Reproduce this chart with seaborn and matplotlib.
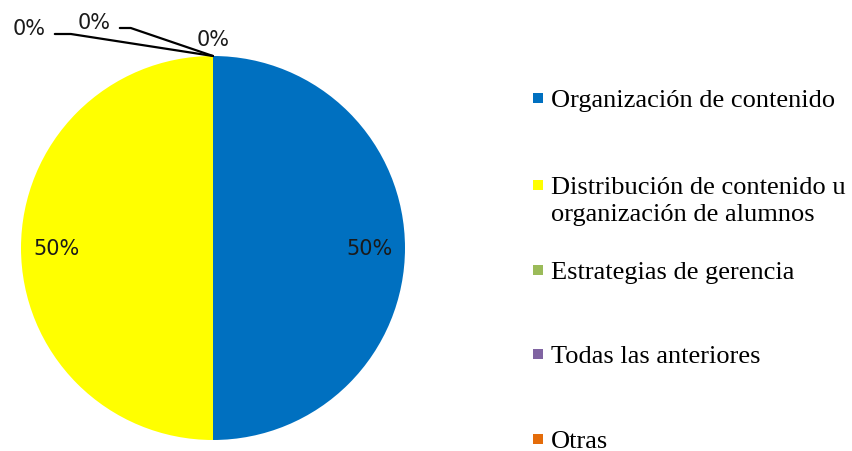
import numpy as np
import matplotlib
matplotlib.use('Agg')
import matplotlib.pyplot as plt
import seaborn as sns
from matplotlib.patches import Rectangle

# Data
categories = ['Organización de contenido',
              'Distribución de contenido u\norganización de alumnos',
              'Estrategias de gerencia',
              'Todas las anteriores',
              'Otras']
percentages = [50, 50, 0, 0, 0]
colors = ['#0070C0', '#FFFF00', '#9BBB59', '#8064A2', '#E46C0A']

sns.set_theme(style='white')
plt.rcParams['font.family'] = ['DejaVu Sans']

W, H = 852, 452
fig = plt.figure(figsize=(W / 100, H / 100), dpi=100)
fig.patch.set_facecolor('white')

# pie axes placed in pixels: center (213, 249), radius 192
cx, cy, r = 213, 249, 192
ax = fig.add_axes([(cx - r) / W, (H - cy - r) / H, 2 * r / W, 2 * r / H])

wedges, _ = ax.pie(percentages, colors=colors, startangle=90, counterclock=False,
                   radius=1, wedgeprops=dict(linewidth=0))
ax.set_xlim(-1, 1)
ax.set_ylim(-1, 1)
ax.set_aspect('equal')
ax.axis('off')

# percentage labels; zero slices get leader lines (text offset, bend x) in pixels
zero_offsets = [(-167, 18, -149), (-102, 24, -85), (0, 7, None)]
zi = 0
for w, p in zip(wedges, percentages):
    theta = np.deg2rad((w.theta1 + w.theta2) / 2)
    if p > 0:
        ax.text(0.815 * np.cos(theta), 0.815 * np.sin(theta), f'{p}%',
                ha='center', va='center', fontsize=15, color='#1a1a1a')
    else:
        dx, dy, bx = zero_offsets[zi]
        anchor = (np.cos(theta), np.sin(theta))
        if bx is None:
            ax.annotate(f'{p}%', xy=anchor, xytext=(dx, dy), textcoords='offset pixels',
                        ha='center', va='bottom', fontsize=15, color='#1a1a1a')
        else:
            ang = np.degrees(np.arctan2(dy + 5, bx))
            ax.annotate(f'{p}%', xy=anchor, xytext=(dx, dy), textcoords='offset pixels',
                        ha='right', va='bottom', fontsize=15, color='#1a1a1a',
                        arrowprops=dict(arrowstyle='-', color='black', lw=1.6,
                                        relpos=(1.0, 0.2), shrinkA=4, shrinkB=0,
                                        connectionstyle=f'angle,angleA=0,angleB={ang:.1f},rad=0'))
        zi += 1

# legend drawn by hand: evenly spaced rows
row_y = [99, 186, 271, 355, 440]
for label, col, y in zip(categories, colors, row_y):
    fig.patches.append(Rectangle((533 / W, (H - y - 5) / H), 10 / W, 10 / H,
                                 transform=fig.transFigure, facecolor=col, edgecolor='none'))
    for k, line in enumerate(label.split('\n')):
        fig.text(551 / W, (H - y - 8 - 27 * k) / H, line, ha='left', va='baseline',
                 fontsize=19, family=['Liberation Serif'], color='black')

fig.savefig('out.png', dpi=100, facecolor='white')
